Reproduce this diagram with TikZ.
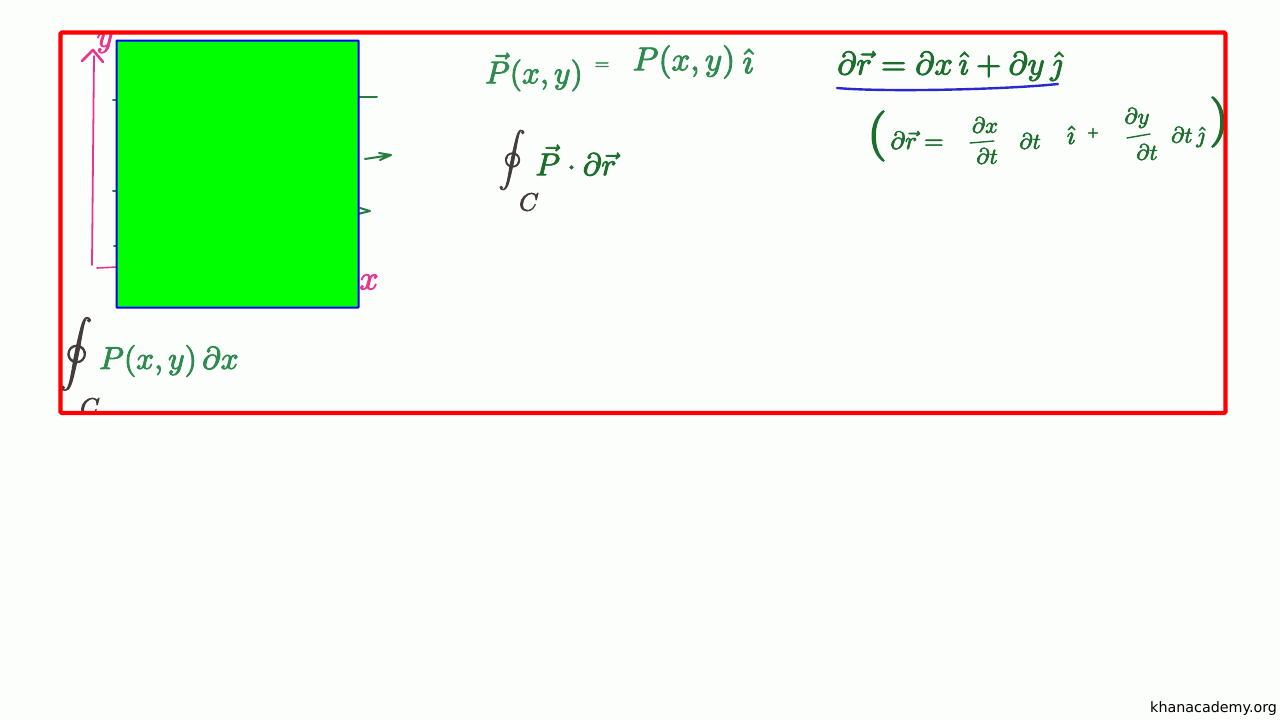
\documentclass[tikz,border=0pt]{standalone}
\usepackage[no-math]{fontspec}
\newfontfamily\kafont{DejaVu Sans}
\definecolor{bgc}{HTML}{FCFEFC}
\definecolor{framered}{HTML}{FF0000}
\definecolor{boxgreen}{HTML}{00FF00}
\definecolor{boxblue}{HTML}{0000FF}
\definecolor{inkgreen}{HTML}{2E8B4F}
\definecolor{inkdark}{HTML}{1B6E2C}
\definecolor{inkpink}{HTML}{E8368F}
\definecolor{inkblack}{HTML}{443C3C}
\definecolor{inkblue}{HTML}{2A2ACB}
\tikzset{
  x=1pt,y=-1pt,
  plain/.style={inner sep=0pt,outer sep=0pt,anchor=center},
  ink/.style={plain,
    execute at begin node={\special{pdf:code 2 Tr 0.28 w}},
    execute at end node={\special{pdf:code 0 Tr 1 w}}},
  big/.style={ink,scale=3.15},
  mid/.style={ink,scale=2.5},
  small/.style={ink,scale=2.25},
  paren/.style={ink,scale=5,text=inkdark},
  stroke/.style={line width=2pt,line cap=round,line join=round},
}
\begin{document}
\begin{tikzpicture}
\useasboundingbox (0,0) rectangle (1280,720);
\fill[bgc] (0,0) rectangle (1280,720);
\begin{scope}
\clip (60,32) rectangle (1226,413);
% axes
\coordinate (ybase) at (92,265);
\coordinate (ytop) at (94,56);
\coordinate (ahl) at (82,61);
\coordinate (aht) at (93,50);
\coordinate (ahr) at (103,62);
\coordinate (xbase) at (97,268);
\coordinate (xend) at (118,267);
\draw[stroke,inkpink,line width=1.8pt] (ybase) -- (ytop);
\draw[stroke,inkpink,line width=2.6pt] (ahl) -- (aht) -- (ahr);
\draw[stroke,inkpink,line width=1.6pt] (xbase) -- (xend);
\node[big,text=inkpink] (ylab) at (105,43) {$y$};
\node[ink,scale=3.4,text=inkpink] (xlab) at (369,282) {$x$};
% vector field stubs
\coordinate (s1a) at (350,97); \coordinate (s1b) at (377,97);
\coordinate (s2a) at (365,159); \coordinate (s2b) at (391,155);
\coordinate (s2c) at (379,153); \coordinate (s2d) at (380,160);
\coordinate (s3a) at (350,216); \coordinate (s3b) at (370,211);
\coordinate (s3c) at (360,208);
\coordinate (l1a) at (113,100); \coordinate (l1b) at (120,100);
\coordinate (l2a) at (113,191); \coordinate (l2b) at (120,191);
\coordinate (l3a) at (114,246); \coordinate (l3b) at (120,246);
\draw[stroke,inkdark!50!inkgreen] (s1a) -- (s1b);
\draw[stroke,inkdark!50!inkgreen] (s2a) -- (s2b) (s2c) -- (s2b) -- (s2d);
\draw[stroke,inkdark!50!inkgreen] (s3a) -- (s3b) -- (s3c);
\draw[stroke,inkdark!50!inkgreen] (l1a) -- (l1b) (l2a) -- (l2b) (l3a) -- (l3b);
% lower left integral
\node[ink,scale=3.3,text=inkblack] (oa) at (76,354) {$\displaystyle\oint$};
\node[mid,text=inkblack] (ca) at (90,407) {$C$};
\node[big,text=inkgreen] (pa) at (169,361) {$P(x,y)\,\partial x$};
% middle
\node[big,text=inkgreen] (pv) at (534,72) {$\vec{P}(x,y)$};
\node[ink,scale=1.9,text=inkgreen] (eqa) at (602,66) {$=$};
\node[ink,scale=3.3,text=inkgreen] (pb) at (684,62) {$P(x,y)$};
\node[ink,scale=3.5,text=inkgreen] (ia) at (748,61) {$\hat{\imath}$};
\node[ink,scale=2.7,text=inkblack] (ob) at (512,160) {$\displaystyle\oint$};
\node[mid,text=inkblack] (cb) at (529,202) {$C$};
\node[big,text=inkdark] (pd) at (576,160) {$\vec{P}\cdot\partial\vec{r}$};
% right
\node[ink,scale=3.25,text=inkdark] (dr) at (950,66) {$\partial\vec{r}=\partial x\,\hat{\imath}+\partial y\,\hat{\jmath}$};
\coordinate (ua) at (837,88);
\coordinate (ub) at (1058,84);
\draw[stroke,inkblue,line width=2.4pt] (ua) .. controls (880,92) and (1000,90) .. (ub);
\node[paren] (lp) at (877,136) {$($};
\node[mid,text=inkdark] (dr2) at (917,140) {$\partial\vec{r}=$};
\node[small,text=inkdark] (f1n) at (985,125) {$\partial x$};
\coordinate (f1a) at (970,143); \coordinate (f1b) at (994,141);
\draw[stroke,inkdark,line width=1.4pt] (f1a) -- (f1b);
\node[small,text=inkdark] (f1d) at (987,156) {$\partial t$};
\node[small,text=inkdark] (dt1) at (1030,141) {$\partial t$};
\node[ink,scale=2.6,text=inkdark] (i2) at (1071,135) {$\hat{\imath}$};
\node[ink,scale=1.5,text=inkdark] (plus) at (1093,133) {$+$};
\node[small,text=inkdark] (f2n) at (1137,118) {$\partial y$};
\coordinate (f2a) at (1127,138); \coordinate (f2b) at (1150,134);
\draw[stroke,inkdark,line width=1.4pt] (f2a) -- (f2b);
\node[small,text=inkdark] (f2d) at (1147,152) {$\partial t$};
\node[small,text=inkdark] (dt2) at (1188,137) {$\partial t\,\hat{\jmath}$};
\node[paren] (rp) at (1219,122) {$)$};
\end{scope}
\node[draw=boxblue,fill=boxgreen,line width=2pt,minimum width=242pt,minimum height=267pt,inner sep=0pt,rounded corners=0.5pt] (greenbox) at (237.5,174) {};
\draw[framered,line width=4.4pt,rounded corners=1.5pt] (60.5,32.5) rectangle (1225.5,413);
\node[plain,anchor=east,font=\kafont\fontsize{14.3}{16}\selectfont,text=black] (ka) at (1277,709) {khanacademy.org};
\end{tikzpicture}
\end{document}
